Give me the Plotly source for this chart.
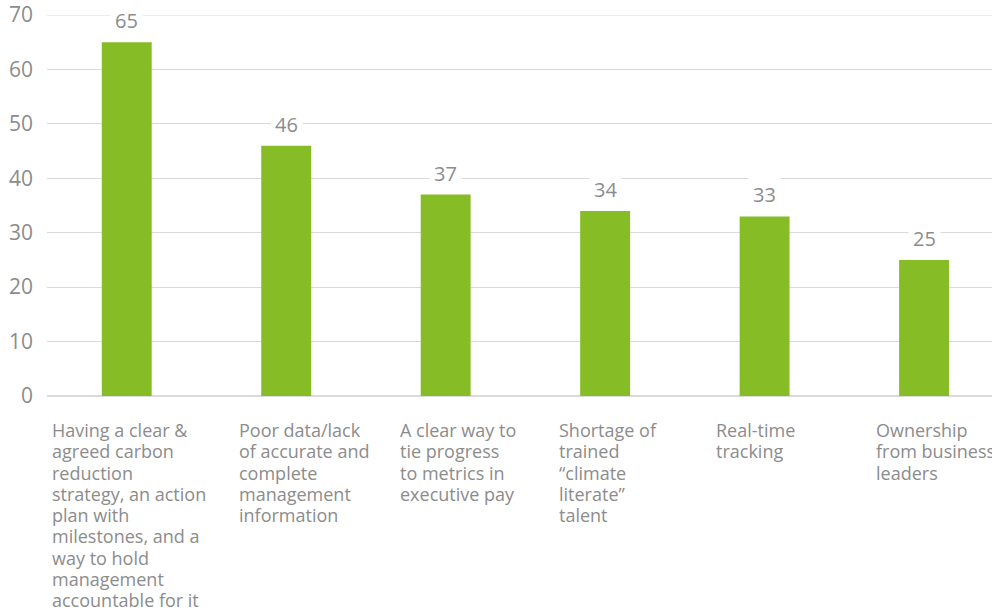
import plotly.graph_objects as go

categories = [
    "Having a clear &<br>agreed carbon<br>reduction<br>strategy, an action<br>plan with<br>milestones, and a<br>way to hold<br>management<br>accountable for it",
    "Poor data/lack<br>of accurate and<br>complete<br>management<br>information",
    "A clear way to<br>tie progress<br>to metrics in<br>executive pay",
    "Shortage of<br>trained<br>\u201cclimate<br>literate\u201d<br>talent",
    "Real-time<br>tracking",
    "Ownership<br>from business<br>leaders",
]
values = [65, 46, 37, 34, 33, 25]
y_ticks = [0, 10, 20, 30, 40, 50, 60, 70]

label_xshift = [-76, -48, -47, -47, -50, -49]
LINE_H = 21.25

GREEN = "#86bc25"
GREY = "#8c8c8c"
GRID = "#dadada"
FONT = "Open Sans"

x = list(range(len(values)))

fig = go.Figure()
fig.add_trace(go.Bar(x=x, y=values, width=0.313, marker=dict(color=GREEN, line=dict(width=0)),
                     hoverinfo="skip"))

annotations = []
for i, v in enumerate(values):
    annotations.append(dict(x=i, y=v, xref="x", yref="y", text=str(v), showarrow=False,
                            yanchor="bottom", yshift=3, bgcolor="white", borderpad=4,
                            font=dict(family=FONT, size=20, color=GREY)))
for i, c in enumerate(categories):
    for k, line in enumerate(c.split("<br>")):
        annotations.append(dict(x=i, y=0, xref="x", yref="paper", text=line, showarrow=False,
                                xanchor="left", yanchor="top", align="left", borderpad=0,
                                xshift=label_xshift[i], yshift=-21 - k * LINE_H,
                                font=dict(family=FONT, size=18, color=GREY)))

# top gridline (plotly drops grid lines sitting exactly on the plot edge)
shapes = [dict(type="line", xref="paper", yref="y", x0=0, x1=1, y0=y_ticks[-1], y1=y_ticks[-1],
               line=dict(color=GRID, width=1.2), layer="below")]

fig.update_layout(
    width=992, height=613,
    margin=dict(l=47, r=0, t=15, b=217),
    paper_bgcolor="white", plot_bgcolor="white",
    showlegend=False,
    font=dict(family=FONT, color=GREY),
    xaxis=dict(range=[-0.5, 5.426], showticklabels=False, showgrid=False, zeroline=False,
               showline=False, fixedrange=True),
    yaxis=dict(range=[0, 70], tickvals=y_ticks, showgrid=True, gridcolor=GRID, gridwidth=1.2,
               zeroline=True, zerolinecolor=GRID, zerolinewidth=1.2,
               showline=False, ticks="", ticklabelstandoff=13, automargin=False,
               tickfont=dict(family=FONT, size=21, color=GREY), fixedrange=True),
    annotations=annotations,
    shapes=shapes,
)

# remove the browser's default 8px body margin so the figure sits at the window's corner
fig.write_html("out.html", config={"displayModeBar": False, "staticPlot": True},
               post_script="document.body.style.margin='0';document.body.style.overflow='hidden';")
